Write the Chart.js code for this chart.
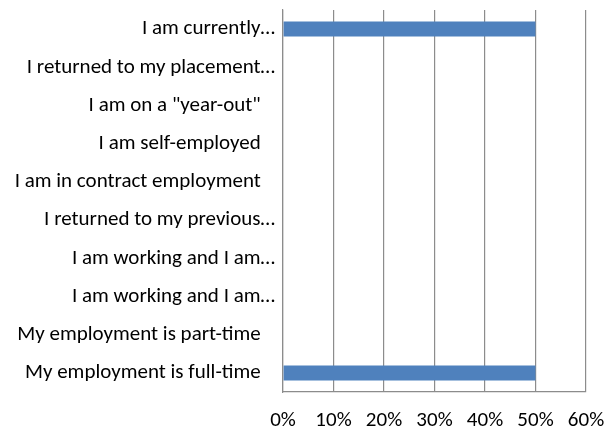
<!DOCTYPE html>
<html>
<head>
<meta charset="utf-8">
<script src="https://cdn.jsdelivr.net/npm/chart.js@4/dist/chart.umd.min.js"></script>
<style>
  html, body { margin: 0; padding: 0; background: #fff; }
  #wrap { width: 612px; height: 433px; }
</style>
</head>
<body>
<div id="wrap"><canvas id="chart-employment"></canvas></div>
<script>
  // answers, top to bottom (full answers keep their trailing spaces)
  const categories = [
    'I am currently…',
    'I returned to my placement…',
    'I am on a "year-out"   ',
    'I am self-employed   ',
    'I am in contract employment   ',
    'I returned to my previous…',
    'I am working and I am…',
    'I am working and I am…',
    'My employment is part-time   ',
    'My employment is full-time   ',
  ];
  const percentages = [50, 0, 0, 0, 0, 0, 0, 0, 0, 50];
  const tickValues = [0, 10, 20, 30, 40, 50, 60];

  const fontFamily = 'Carlito, Lato, "Open Sans", sans-serif';
  const gridColor = '#8c8c8c';

  let ctx = document.getElementById('chart-employment').getContext('2d');
  let myChart = new Chart(ctx, {
    type: 'bar',
    data: {
      labels: categories,
      datasets: [
        {
          data: percentages,
          backgroundColor: '#4f81bd',
          borderWidth: 0,
          barPercentage: 0.8,
          categoryPercentage: 0.49,
        },
      ],
    },
    options: {
      indexAxis: 'y',
      responsive: true,
      maintainAspectRatio: false,
      animation: false,
      layout: {
        padding: { top: 10, right: 26, left: 0, bottom: 0 },
      },
      plugins: {
        legend: { display: false },
        tooltip: { enabled: false },
      },
      scales: {
        x: {
          min: 0,
          max: 60,
          afterBuildTicks: (axis) => {
            axis.ticks = tickValues.map((v) => ({ value: v }));
          },
          afterFit: (axis) => {
            axis.height = 41;
            axis.paddingRight = 0;
          },
          ticks: {
            padding: 16,
            color: '#000',
            maxRotation: 0,
            font: { family: fontFamily, size: 21 },
            callback: (v) => v + '%',
          },
          grid: {
            color: gridColor,
            lineWidth: 1.2,
            drawTicks: false,
          },
          border: { display: true, color: gridColor, width: 1.2 },
        },
        y: {
          afterFit: (axis) => {
            axis.width = 283;
            axis.paddingTop = 0;
            axis.paddingBottom = 0;
          },
          ticks: {
            padding: 8,
            color: '#000',
            autoSkip: false,
            font: { family: fontFamily, size: 21 },
          },
          grid: { display: false, drawTicks: false },
          border: { display: true, color: gridColor, width: 1.2 },
        },
      },
    },
  });
</script>
</body>
</html>
